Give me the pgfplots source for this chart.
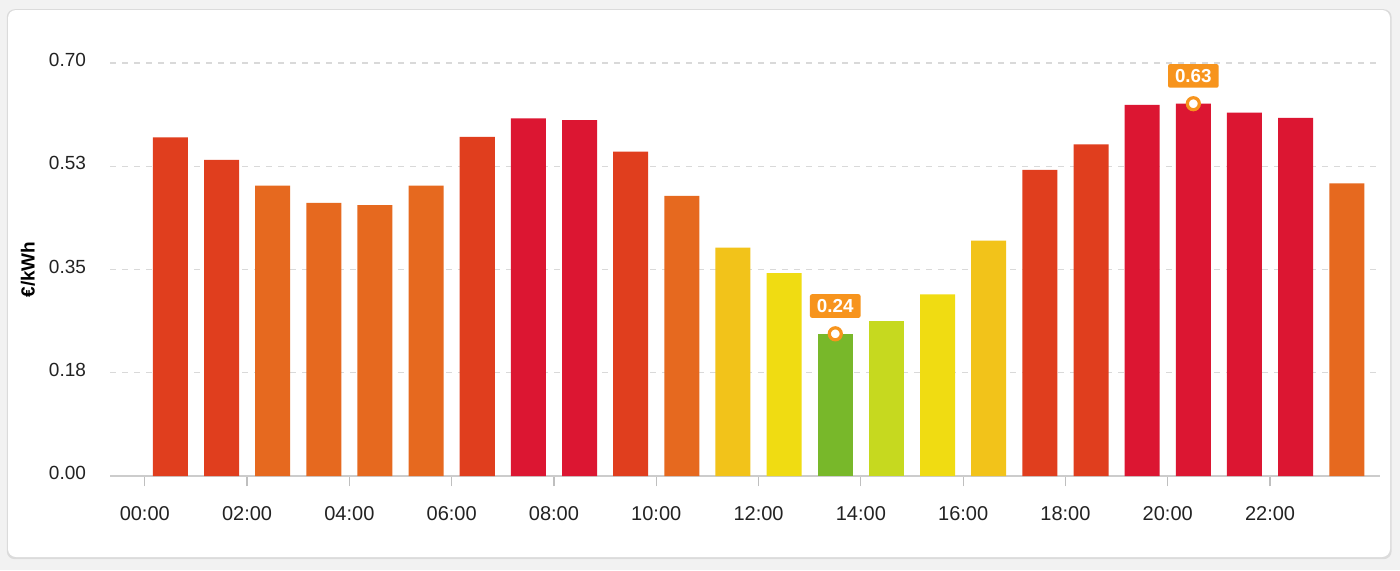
\documentclass[border=0pt]{standalone}
\usepackage{pgfplots}
\pgfplotsset{compat=1.18}
\usepackage{fontspec}
\setmainfont{Liberation Sans}
\definecolor{cR}{HTML}{DC1632}
\definecolor{cRO}{HTML}{E03E1E}
\definecolor{cO}{HTML}{E6691F}
\definecolor{cYO}{HTML}{F2C31A}
\definecolor{cY}{HTML}{F0DC12}
\definecolor{cYG}{HTML}{C6D91F}
\definecolor{cG}{HTML}{78B82A}
\definecolor{cLab}{HTML}{F7941D}
\definecolor{txt}{HTML}{222222}
\begin{document}
\begin{tikzpicture}
\fill[black!5] (0,0) rectangle (700pt,285pt);
\fill[black!14, rounded corners=4pt] (3.4pt,5.4pt) rectangle (695.8pt,280.4pt);
\fill[white, rounded corners=4pt] (4pt,6.5pt) rectangle (695pt,280pt);
\begin{axis}[
  at={(55pt,47pt)}, anchor=south west, scale only axis,
  width=635pt, height=206.5pt,
  xmin=-0.68, xmax=24.15, ymin=0, ymax=0.7,
  bar width=17.5pt,
  axis lines*=left,
  x axis line style={-, black!20, line width=0.8pt},
  y axis line style={draw=none},
  tick align=outside,
  major tick length=5pt,
  xtick={0,2,...,22},
  xticklabels={00:00,02:00,04:00,06:00,08:00,10:00,12:00,14:00,16:00,18:00,20:00,22:00},
  ytick={0,0.175,0.35,0.525,0.7},
  yticklabels={0.00,0.18,0.35,0.53,0.70},
  ymajorgrids,
  major grid style={black!15, dash pattern=on 3pt off 3pt, line width=0.6pt},
  xtick style={black!25, line width=0.6pt},
  ytick style={draw=none},
  ticklabel style={text=txt},
  xticklabel style={font=\fontsize{10}{12}\selectfont, yshift=-6.5pt},
  yticklabel style={font=\fontsize{9.5}{11}\selectfont, xshift=-3.5pt, yshift=1.5pt},
  ylabel={\bfseries €/kWh},
  ylabel style={at={(axis description cs:-0.0646,0.5)}, anchor=center, font=\fontsize{9.5}{11}\selectfont, text=black},
  clip=false,
]
\addplot[ybar, bar shift=0pt, fill=cRO, draw=none] coordinates {(0.5,0.574) (1.5,0.536) (6.5,0.575) (9.5,0.550) (17.5,0.519) (18.5,0.562)};
\addplot[ybar, bar shift=0pt, fill=cO, draw=none] coordinates {(2.5,0.492) (3.5,0.463) (4.5,0.459) (5.5,0.492) (10.5,0.475) (23.5,0.496)};
\addplot[ybar, bar shift=0pt, fill=cR, draw=none] coordinates {(7.5,0.606) (8.5,0.603) (19.5,0.629) (20.5,0.631) (21.5,0.616) (22.5,0.607)};
\addplot[ybar, bar shift=0pt, fill=cYO, draw=none] coordinates {(11.5,0.387) (16.5,0.399)};
\addplot[ybar, bar shift=0pt, fill=cY, draw=none] coordinates {(12.5,0.344) (15.5,0.308)};
\addplot[ybar, bar shift=0pt, fill=cG, draw=none] coordinates {(13.5,0.241)};
\addplot[ybar, bar shift=0pt, fill=cYG, draw=none] coordinates {(14.5,0.263)};
\addplot[only marks, mark=*, mark size=3pt,
  mark options={fill=white, draw=cLab, line width=1.6pt},
  point meta=explicit symbolic, nodes near coords,
  nodes near coords style={fill=cLab, text=white, font=\bfseries\fontsize{9.4}{11}\selectfont,
    anchor=south, yshift=7.2pt, inner xsep=3.5pt, inner ysep=2.5pt,
    text height=6.8pt, text depth=0pt, rounded corners=1pt}]
  coordinates {(13.5,0.241)[0.24] (20.5,0.631)[0.63]};
\end{axis}
\end{tikzpicture}
\end{document}
